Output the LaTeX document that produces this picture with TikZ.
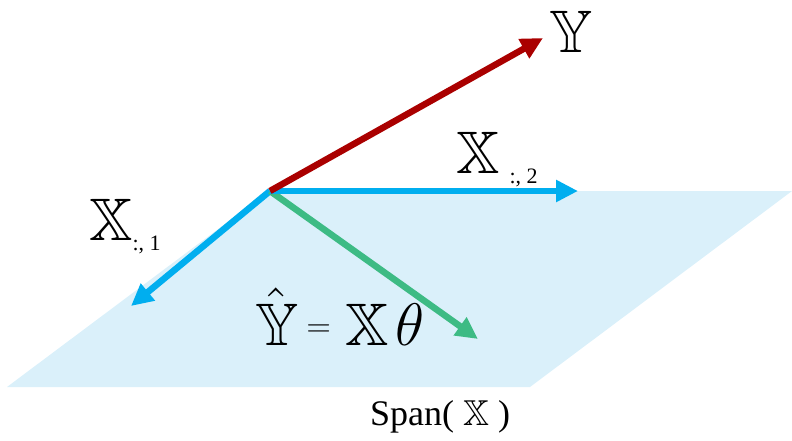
\documentclass[tikz,border=0pt]{standalone}
\usepackage{amsmath,amssymb}
\usepackage[no-math]{fontspec}
\setmainfont{Liberation Serif}
\usetikzlibrary{arrows.meta}
\definecolor{cred}{HTML}{AA0000}
\definecolor{cblue}{HTML}{00AEEF}
\definecolor{cgreen}{HTML}{3DBB84}
\definecolor{cplane}{HTML}{DAF0FA}
\tikzset{
  vec/.style={line width=6.5pt, -{Triangle[length=22pt, width=21pt]}},
  big/.style={inner sep=0pt, font=\fontsize{60}{64}\selectfont},
  bigmath/.style={inner sep=0pt, font=\fontsize{12}{14}\selectfont, scale=5, transform shape}
}
\newcommand{\colsub}[1]{\raisebox{-10pt}{\fontsize{22}{24}\selectfont :, #1}}
\newcommand{\smalleq}{\raisebox{1.8pt}{\scalebox{0.54}{$=$}}}

\begin{document}
\begin{tikzpicture}[x=1pt, y=-1pt]
\useasboundingbox (0,0) rectangle (792,441);
% plane
\coordinate (tl) at (269,191);
\coordinate (tr) at (792,191);
\coordinate (br) at (530,387);
\coordinate (bl) at (7,387);
\fill[cplane] (tl) -- (tr) -- (br) -- (bl) -- cycle;

% vectors
\coordinate (o) at (270,191);
\coordinate (x1tip) at (131,306);
\coordinate (x2tip) at (578,191);
\coordinate (yhtip) at (478,339);
\coordinate (ytip) at (543,38);
\draw[vec, cblue] (o) -- (x1tip);
\draw[vec, cgreen] (o) -- (yhtip);
\draw[vec, cblue] (o) -- (x2tip);
\draw[vec, cred] (o) -- (ytip);

% labels
\node[big, anchor=base west] (ylab) at (549,53) {$\mathbb{Y}$};
\node[big, anchor=base west] (x1lab) at (89,240) {$\mathbb{X}$\colsub{1}};
\node[big, anchor=base west] (x2lab) at (456,173) {$\mathbb{X}$\,\colsub{2}};
\node[bigmath, anchor=base west] (eqlab) at (254,345)
  {$\hat{\mathbb{Y}}$\kern1.6pt\smalleq\kern2.8pt$\mathbb{X}$\kern1.4pt$\theta$};
\node[inner sep=0pt, anchor=base, font=\fontsize{36}{40}\selectfont] (span) at (440,425) {Span( $\mathbb{X}$ )};
\end{tikzpicture}
\end{document}
